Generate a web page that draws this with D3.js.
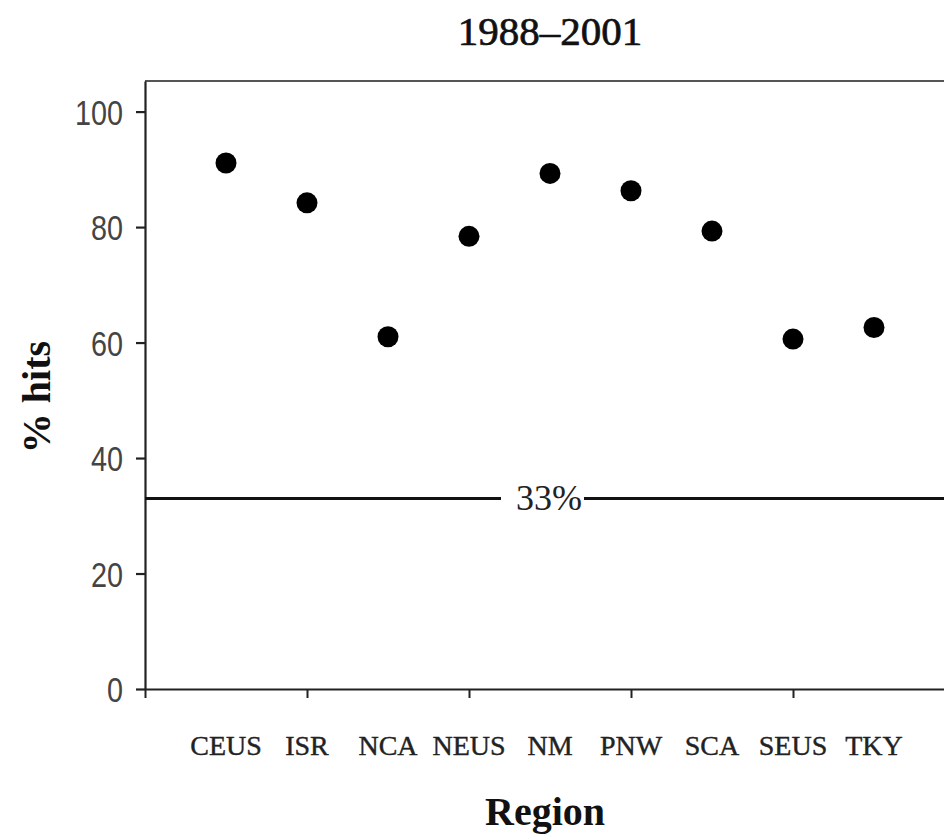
<!DOCTYPE html>
<html>
<head>
<meta charset="utf-8">
<script src="https://cdn.jsdelivr.net/npm/d3@7/dist/d3.min.js"></script>
<style>
  html, body { margin: 0; padding: 0; background: #fff; }
  svg { display: block; }
</style>
</head>
<body>
<svg id="chart" width="944" height="837"></svg>
<script>
// Percentage of hits by region, 1988–2001
const regions = ["CEUS", "ISR", "NCA", "NEUS", "NM", "PNW", "SCA", "SEUS", "TKY"];
const hits = [91.1, 84.2, 61.0, 78.4, 89.3, 86.3, 79.3, 60.6, 62.6];
const yTicks = [0, 20, 40, 60, 80, 100];
const chance = 33;
const title = "1988–2001";

const svg = d3.select("#chart");
const serif = "'Liberation Serif', 'Times New Roman', serif";
const sans = "'Liberation Sans', Arial, sans-serif";

const plot = { left: 145, right: 955, top: 81, bottom: 689 };

// x runs over slot positions: 0 is the axis origin, regions sit at 1..9
const x = d3.scaleLinear().domain([0, regions.length + 1]).range([plot.left, plot.right]);
const y = d3.scaleLinear().domain([0, 105.3]).range([plot.bottom, plot.top]);

// frame: top border
svg.append("line")
  .attr("x1", plot.left).attr("x2", plot.right)
  .attr("y1", plot.top).attr("y2", plot.top)
  .attr("stroke", "#555").attr("stroke-width", 2.2);

// y axis with narrow numerals
const yAxis = svg.append("g")
  .attr("transform", `translate(${plot.left},0)`)
  .call(d3.axisLeft(y).tickValues(yTicks).tickSize(9).tickPadding(13).tickSizeOuter(0));
yAxis.select(".domain").attr("stroke", "#222").attr("stroke-width", 2.2);
yAxis.selectAll(".tick line").attr("stroke", "#222").attr("stroke-width", 2.2);
yAxis.selectAll(".tick text")
  .attr("font-family", sans).attr("font-size", 35).attr("fill", "#444")
  .attr("dy", "0.36em")
  .attr("lengthAdjust", "spacingAndGlyphs")
  .attr("textLength", d => String(d).length * 16);

// x axis: tick marks at every second slot, no numbers
const xAxis = svg.append("g")
  .attr("transform", `translate(0,${plot.bottom})`)
  .call(d3.axisBottom(x).tickValues([0, 2, 4, 6, 8, 10]).tickFormat("").tickSize(9).tickSizeOuter(0));
xAxis.select(".domain").attr("stroke", "#222").attr("stroke-width", 2.2);
xAxis.selectAll(".tick line").attr("stroke", "#222").attr("stroke-width", 2);

// region labels
svg.append("g").selectAll("text")
  .data(regions)
  .join("text")
  .attr("x", (d, i) => x(i + 1))
  .attr("y", 755)
  .attr("text-anchor", "middle")
  .attr("font-family", serif).attr("font-size", 28).attr("fill", "#222")
  .attr("stroke", "#222").attr("stroke-width", 0.4)
  .text(d => d);

// chance line at 33% with its label on a white patch
const chanceY = y(chance);
svg.append("line")
  .attr("x1", plot.left).attr("x2", plot.right)
  .attr("y1", chanceY).attr("y2", chanceY)
  .attr("stroke", "#111").attr("stroke-width", 3);
const chanceG = svg.append("g");
const patch = chanceG.append("rect").attr("fill", "#fff");
const chanceLabel = chanceG.append("text")
  .attr("x", 549).attr("y", chanceY + 12)
  .attr("text-anchor", "middle")
  .attr("font-family", serif).attr("font-size", 36).attr("fill", "#222")
  .text(chance + "%");
const bb = chanceLabel.node().getBBox();
patch.attr("x", bb.x - 15).attr("y", chanceY - 4)
  .attr("width", bb.width + 17).attr("height", 8);

// points
svg.append("g").selectAll("circle")
  .data(hits)
  .join("circle")
  .attr("cx", (d, i) => x(i + 1))
  .attr("cy", d => y(d))
  .attr("r", 10.5)
  .attr("fill", "#000");

// title and axis titles
svg.append("text")
  .attr("x", (plot.left + plot.right) / 2).attr("y", 45)
  .attr("text-anchor", "middle")
  .attr("font-family", serif).attr("font-size", 41).attr("fill", "#111")
  .attr("stroke", "#111").attr("stroke-width", 0.7)
  .text(title);

svg.append("text")
  .attr("x", 545).attr("y", 825)
  .attr("text-anchor", "middle")
  .attr("font-family", serif).attr("font-size", 40).attr("font-weight", "bold").attr("fill", "#111")
  .text("Region");

svg.append("text")
  .attr("transform", "translate(50,397) rotate(-90)")
  .attr("text-anchor", "middle")
  .attr("font-family", serif).attr("font-size", 40).attr("font-weight", "bold").attr("fill", "#111")
  .text("% hits");
</script>
</body>
</html>
